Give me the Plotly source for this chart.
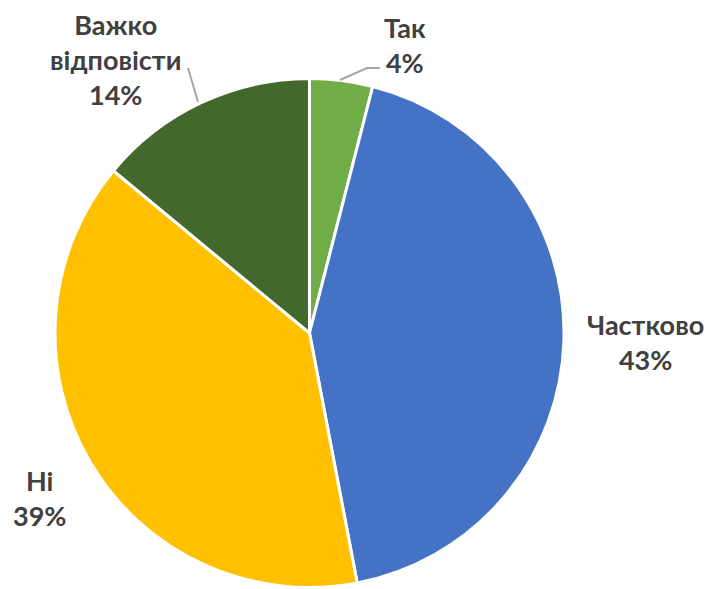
import plotly.graph_objects as go

# Data
labels = ["Так", "Частково", "Ні", "Важко<br>відповісти"]
values = [4, 43, 39, 14]
colors = ["#70AD47", "#4472C4", "#FFC000", "#43682B"]

# canvas size and page offset (browser body margin)
W, H = 712, 589
OFF = 8
font_family = "Lato, 'Open Sans', sans-serif"

# label placement (pixel centres in the screenshot)
label_pos = [(405, 45), (645, 342), (39, 498), (115, 60)]


def px(x):
    return (x - OFF) / W


def py(y):
    return 1 - (y - OFF) / H


fig = go.Figure()
fig.add_trace(go.Pie(
    labels=labels,
    values=values,
    sort=False,
    direction="clockwise",
    rotation=0,
    marker=dict(colors=colors, line=dict(color="white", width=3)),
    textinfo="none",
    hoverinfo="label+percent",
    domain=dict(x=[px(55), px(564)], y=[py(588), py(78)]),
    showlegend=False,
))

total = sum(values)
for lab, val, (x, y) in zip(labels, values, label_pos):
    fig.add_annotation(
        x=px(x), y=py(y), xref="paper", yref="paper",
        text=f"<b>{lab}<br>{round(100 * val / total)}%</b>",
        showarrow=False, xanchor="center", yanchor="middle",
        borderpad=0,
        font=dict(family=font_family, size=27, color="#404040"),
    )

# leader lines
leaders = [
    [(340, 80), (367, 68), (380, 68)],
    [(188, 68), (198, 102)],
]
for pts in leaders:
    path = "M " + " L ".join(f"{px(x)},{py(y)}" for x, y in pts)
    fig.add_shape(type="path", path=path, xref="paper", yref="paper",
                  line=dict(color="#A6A6A6", width=2))

fig.update_layout(
    width=W, height=H,
    margin=dict(l=0, r=0, t=0, b=0),
    paper_bgcolor="white",
    plot_bgcolor="white",
)

fig.write_html("out.html")
